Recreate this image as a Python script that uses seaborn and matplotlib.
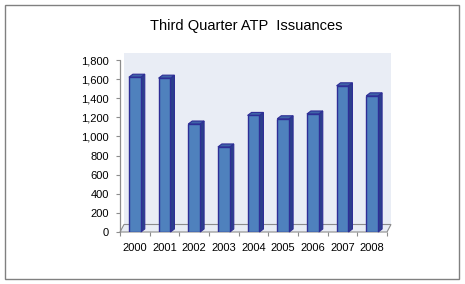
import matplotlib
matplotlib.use("Agg")
import matplotlib.pyplot as plt
import seaborn as sns
import pandas as pd
from matplotlib.patches import Polygon, Rectangle
from matplotlib.ticker import FuncFormatter, FixedLocator

years = ["2000", "2001", "2002", "2003", "2004", "2005", "2006", "2007", "2008"]
issuances = [1620, 1610, 1130, 890, 1220, 1185, 1235, 1530, 1425]
title = "Third Quarter ATP  Issuances"

sns.set_style("white")
plt.rcParams["font.family"] = ["Liberation Sans", "DejaVu Sans"]

W, H, DPI = 465, 284, 100
fig = plt.figure(figsize=(W / DPI, H / DPI), dpi=DPI)

# axes in pixel geometry
x0, x1 = 120, 387
y_zero, y_top = 232, 60
ax = fig.add_axes([x0 / W, 1 - y_zero / H, (x1 - x0) / W, (y_zero - y_top) / H])

df = pd.DataFrame({"year": years, "value": issuances})
ymax = 1800
ax.set_xlim(-0.5, len(years) - 0.5)
ax.set_ylim(0, ymax)

px_x = len(years) / (x1 - x0)          # data units per pixel (x)
px_y = ymax / (y_zero - y_top)         # data units per pixel (y)

wall_c = "#E9EDF5"
grid_c = "#8C8C8C"
# back wall and floor
wdx, wdy = 4 * px_x, 7.5 * px_y
xl, xr = -0.5, len(years) - 0.5
ax.add_patch(Polygon([(xl + wdx, wdy), (xr + wdx, wdy), (xr + wdx, ymax + wdy), (xl + wdx, ymax + wdy)],
                     closed=True, facecolor=wall_c, edgecolor="none", clip_on=False, zorder=0))
ax.add_patch(Polygon([(xl, 0), (xr, 0), (xr + wdx, wdy), (xl + wdx, wdy)],
                     closed=True, facecolor=wall_c, edgecolor=grid_c, linewidth=0.8, clip_on=False, zorder=0.5))

sns.barplot(data=df, x="year", y="value", ax=ax, width=0.4, color="#4F81BD",
            saturation=1, edgecolor="#2E2E96", linewidth=1.0, zorder=3)

# 3D side and top faces derived from the drawn bars
bdx, bdy = 4 * px_x, 3 * px_y
for p in ax.patches:
    if not isinstance(p, Rectangle) or p.get_width() > 1:
        continue
    bx0 = p.get_x()
    bx1 = bx0 + p.get_width()
    h = p.get_height()
    ax.add_patch(Polygon([(bx1, 0), (bx1 + bdx, bdy), (bx1 + bdx, h + bdy), (bx1, h)], closed=True,
                         facecolor="#2B3F8C", edgecolor="#2E2E96", linewidth=0.8, clip_on=False, zorder=2.8))
    ax.add_patch(Polygon([(bx0, h), (bx1, h), (bx1 + bdx, h + bdy), (bx0 + bdx, h + bdy)], closed=True,
                         facecolor="#3F64A8", edgecolor="#2E2E96", linewidth=0.8, clip_on=False, zorder=2.8))

for s in ax.spines.values():
    s.set_visible(False)
ax.plot([xl, xl], [0, ymax], color=grid_c, linewidth=0.9, clip_on=False, zorder=1)

ax.set_yticks(range(0, 2000, 200))
ax.yaxis.set_major_formatter(FuncFormatter(lambda v, _: f"{int(v):,}"))
ax.tick_params(axis="y", length=3, width=0.8, color=grid_c, pad=5, labelsize=8, labelcolor="black", left=True)
ax.set_xticks(range(len(years)))
ax.set_xticklabels(years)
ax.tick_params(axis="x", which="major", length=0, pad=8, labelsize=8, labelcolor="black")
ax.xaxis.set_minor_locator(FixedLocator([i - 0.5 for i in range(len(years) + 1)]))
ax.tick_params(axis="x", which="minor", length=3, width=0.8, color=grid_c, bottom=True, direction="out")
ax.set_xlabel("")
ax.set_ylabel("")
ax.set_facecolor("none")
ax.grid(False)

fig.text(246 / W, 1 - 30 / H, title, ha="center", va="baseline", fontsize=10.5, color="black")
fig.patches.append(Rectangle((5 / W, 1 - 279 / H), 454 / W, 274 / H, transform=fig.transFigure,
                             facecolor="none", edgecolor="#808080", linewidth=1.0, zorder=0))

fig.savefig("out.png", dpi=DPI, facecolor="white")
